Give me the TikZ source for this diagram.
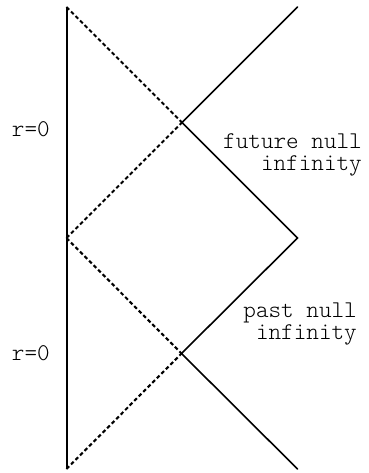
\documentclass[tikz,border=0pt]{standalone}
\usepackage{fontspec}
\setmonofont{Latin Modern Mono Light}
\begin{document}
\begin{tikzpicture}[x=1pt,y=-1pt,
  solidline/.style={line width=1.6pt,line cap=round},
  axisline/.style={line width=2pt},
  nullline/.style={line width=2.1pt,dash pattern=on 3.8pt off 2.6pt},
  lbl/.style={inner sep=0pt,font=\ttfamily\fontsize{24}{22.5}\selectfont,align=right,anchor=east}]
\useasboundingbox (0,0) rectangle (368,473);
\coordinate (T) at (66.5,7);
\coordinate (M) at (66.5,238);
\coordinate (B) at (66.5,469);
\coordinate (U) at (182,122.5);
\coordinate (L) at (181.5,353.5);
\coordinate (R) at (297.5,238);
\coordinate (TR) at (297.5,7);
\coordinate (BR) at (297.5,469);
\draw[axisline] (T) -- (B);
\draw[nullline] (T) -- (U);
\draw[nullline] (M) -- (U);
\draw[nullline] (M) -- (L);
\draw[nullline] (B) -- (L);
\draw[solidline] (TR) -- (U) -- (R) -- (L) -- (BR);
\node[lbl] (fni) at (362,155) {future null\\infinity};
\node[lbl] (pni) at (357,324) {past null\\infinity};
\node[lbl] (r1) at (50,129) {r=0};
\node[lbl] (r2) at (50,353) {r=0};
\end{tikzpicture}
\end{document}
